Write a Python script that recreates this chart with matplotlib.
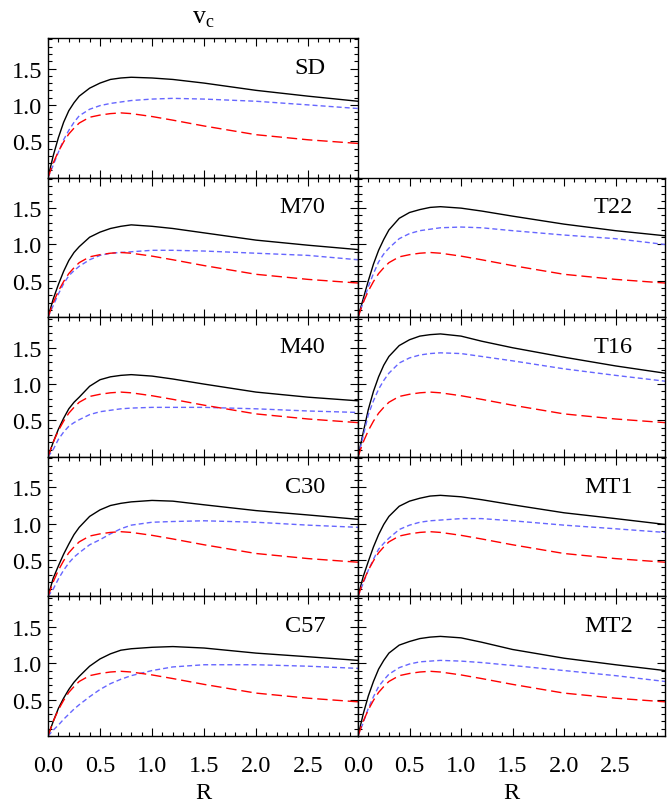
import matplotlib
matplotlib.use("Agg")
import matplotlib.pyplot as plt
from matplotlib.ticker import MultipleLocator, FormatStrFormatter

plt.rcParams['font.family'] = ['Liberation Serif', 'DejaVu Serif']
plt.rcParams['mathtext.fontset'] = 'custom'
plt.rcParams['mathtext.rm'] = 'Liberation Serif'

# radius grid shared by every curve
R = [0, 0.05, 0.1, 0.15, 0.2, 0.25, 0.3, 0.4, 0.5, 0.6, 0.7, 0.8, 1.0, 1.2, 1.5, 2.0, 2.5, 2.98]

# red long-dashed curve, same in all panels
v_red = [0, 0.20, 0.36, 0.49, 0.60, 0.68, 0.75, 0.83, 0.86, 0.88, 0.89, 0.88, 0.84, 0.79, 0.71, 0.59, 0.52, 0.47]

# total (black) and blue dashed curve per model
tot_SD = [0, 0.30, 0.55, 0.76, 0.92, 1.03, 1.12, 1.23, 1.30, 1.35, 1.37, 1.38, 1.37, 1.35, 1.30, 1.20, 1.12, 1.05]
blu_SD = [0, 0.17, 0.35, 0.52, 0.65, 0.76, 0.85, 0.94, 0.99, 1.02, 1.04, 1.06, 1.08, 1.09, 1.08, 1.05, 1.00, 0.95]

tot_M70 = [0, 0.25, 0.45, 0.63, 0.78, 0.89, 0.97, 1.10, 1.17, 1.22, 1.25, 1.27, 1.25, 1.22, 1.16, 1.06, 0.99, 0.93]
blu_M70 = [0, 0.16, 0.32, 0.46, 0.57, 0.64, 0.70, 0.79, 0.85, 0.88, 0.89, 0.90, 0.92, 0.92, 0.91, 0.88, 0.85, 0.79]

tot_M40 = [0, 0.20, 0.38, 0.53, 0.66, 0.75, 0.82, 0.97, 1.06, 1.10, 1.12, 1.13, 1.11, 1.07, 1.00, 0.89, 0.82, 0.77]
blu_M40 = [0, 0.10, 0.24, 0.34, 0.42, 0.47, 0.51, 0.58, 0.62, 0.64, 0.66, 0.67, 0.68, 0.68, 0.68, 0.66, 0.63, 0.61]

tot_C30 = [0, 0.25, 0.42, 0.58, 0.72, 0.85, 0.95, 1.10, 1.19, 1.25, 1.28, 1.30, 1.32, 1.31, 1.26, 1.18, 1.12, 1.06]
blu_C30 = [0, 0.10, 0.24, 0.36, 0.46, 0.54, 0.60, 0.71, 0.78, 0.86, 0.93, 0.98, 1.02, 1.03, 1.04, 1.02, 0.98, 0.95]

tot_C57 = [0, 0.20, 0.38, 0.52, 0.64, 0.74, 0.82, 0.96, 1.06, 1.13, 1.18, 1.20, 1.22, 1.23, 1.21, 1.14, 1.09, 1.04]
blu_C57 = [0, 0.08, 0.15, 0.23, 0.30, 0.37, 0.43, 0.54, 0.64, 0.72, 0.78, 0.83, 0.90, 0.95, 0.98, 0.98, 0.96, 0.93]

tot_T22 = [0, 0.25, 0.50, 0.73, 0.92, 1.07, 1.20, 1.36, 1.44, 1.48, 1.51, 1.52, 1.50, 1.46, 1.39, 1.28, 1.19, 1.12]
blu_T22 = [0, 0.20, 0.42, 0.60, 0.76, 0.87, 0.95, 1.08, 1.15, 1.19, 1.21, 1.23, 1.24, 1.23, 1.19, 1.13, 1.08, 1.00]

tot_T16 = [0, 0.33, 0.65, 0.90, 1.10, 1.26, 1.38, 1.53, 1.61, 1.66, 1.68, 1.69, 1.66, 1.59, 1.50, 1.37, 1.25, 1.15]
blu_T16 = [0, 0.28, 0.58, 0.77, 0.93, 1.05, 1.15, 1.29, 1.36, 1.40, 1.42, 1.43, 1.42, 1.38, 1.32, 1.21, 1.12, 1.04]

tot_MT1 = [0, 0.27, 0.48, 0.68, 0.85, 0.99, 1.10, 1.24, 1.31, 1.35, 1.38, 1.39, 1.37, 1.33, 1.26, 1.15, 1.07, 0.99]
blu_MT1 = [0, 0.18, 0.36, 0.51, 0.65, 0.73, 0.80, 0.92, 0.98, 1.02, 1.04, 1.05, 1.07, 1.07, 1.04, 0.98, 0.93, 0.88]

tot_MT2 = [0, 0.30, 0.55, 0.75, 0.92, 1.04, 1.14, 1.25, 1.30, 1.34, 1.36, 1.37, 1.35, 1.29, 1.19, 1.07, 0.98, 0.90]
blu_MT2 = [0, 0.18, 0.38, 0.54, 0.68, 0.77, 0.85, 0.94, 0.99, 1.02, 1.03, 1.04, 1.03, 1.01, 0.97, 0.90, 0.83, 0.75]

# (name, column, row, total, blue)
panels = [
    ('SD', 0, 0, tot_SD, blu_SD),
    ('M70', 0, 1, tot_M70, blu_M70),
    ('M40', 0, 2, tot_M40, blu_M40),
    ('C30', 0, 3, tot_C30, blu_C30),
    ('C57', 0, 4, tot_C57, blu_C57),
    ('T22', 1, 1, tot_T22, blu_T22),
    ('T16', 1, 2, tot_T16, blu_T16),
    ('MT1', 1, 3, tot_MT1, blu_MT1),
    ('MT2', 1, 4, tot_MT2, blu_MT2),
]

W, H = 667, 804
fig = plt.figure(figsize=(W / 100, H / 100), dpi=100)

col_left = [48, 358]
col_width = [310, 307]
top = 39
row_h = 139.6
fs = 17.5

for name, col, row, tot, blu in panels:
    y0 = H - (top + row_h * (row + 1))
    ax = fig.add_axes([col_left[col] / W, y0 / H, col_width[col] / W, row_h / H])
    ax.plot(R, tot, color='black', lw=1.0)
    ax.plot(R, blu, color='#6666ff', lw=1.0, dashes=(3.6, 2.2))
    ax.plot(R, v_red, color='red', lw=1.0, dashes=(7.5, 3.5))
    ax.set_xlim(0, 2.98)
    ax.set_ylim(0, 1.92)
    ax.set_xticks([0, 0.5, 1.0, 1.5, 2.0, 2.5])
    ax.set_yticks([0.5, 1.0, 1.5])
    ax.xaxis.set_minor_locator(MultipleLocator(0.1))
    ax.yaxis.set_minor_locator(MultipleLocator(0.1))
    ax.xaxis.set_major_formatter(FormatStrFormatter('%.1f'))
    ax.yaxis.set_major_formatter(FormatStrFormatter('%.1f'))
    ax.tick_params(which='both', direction='in', top=True, right=True, width=0.8)
    ax.tick_params(which='major', length=5.5, labelsize=fs)
    ax.tick_params(which='minor', length=3)
    ax.tick_params(axis='x', pad=14)
    ax.tick_params(axis='y', pad=4)
    for s in ax.spines.values():
        s.set_linewidth(1.0)
    if row != 4:
        ax.set_xticklabels([])
    else:
        ax.set_xlabel('R', fontsize=fs, labelpad=4)
    if col == 1:
        ax.set_yticklabels([])
    ax.text(0.895, 0.79, name, transform=ax.transAxes, ha='right', va='center', fontsize=fs)
    if row == 0:
        ax.set_title(r'$\mathrm{v}_\mathrm{c}$', fontsize=fs + 1, pad=11)

fig.savefig('out.png', dpi=100)
